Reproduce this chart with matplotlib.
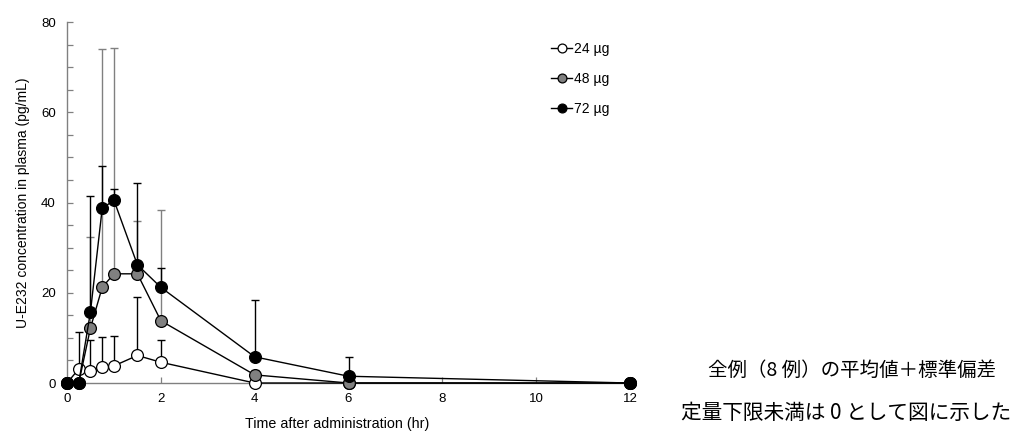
import matplotlib.pyplot as plt
from matplotlib.ticker import MultipleLocator

# time points (hr)
times = [0, 0.25, 0.5, 0.75, 1, 1.5, 2, 4, 6, 12]

# mean plasma concentration (pg/mL) and SD, per dose
mean_24 = [0, 3.1, 2.6, 3.5, 3.8, 6.1, 4.6, 0, 0, 0]
sd_24 = [0, 8.1, 7.0, 6.6, 6.7, 12.9, 5.0, 0, 0, 0]
mean_48 = [0, 0, 12.2, 21.2, 24.2, 24.2, 13.8, 1.8, 0, 0]
sd_48 = [0, 0, 20.1, 52.8, 50.0, 11.8, 24.6, 1.0, 0, 0]
mean_72 = [0, 0, 15.8, 38.7, 40.5, 26.2, 21.2, 5.8, 1.5, 0]
sd_72 = [0, 0, 25.6, 9.4, 2.5, 18.1, 4.3, 12.5, 4.3, 0]

labels = ["24 µg", "48 µg", "72 µg"]

plt.rcParams["font.family"] = ["Liberation Sans", "DejaVu Sans"]

fig = plt.figure(figsize=(10.2, 4.32), dpi=100)
ax = fig.add_axes([0.0657, 0.1134, 0.552, 0.8356])

series = [
    (mean_24, sd_24, "white", "black"),
    (mean_48, sd_48, "#808080", "#808080"),
    (mean_72, sd_72, "black", "black"),
]
for (m, s, face, ecol), lab in zip(series, labels):
    ax.errorbar(times, m, yerr=[[0] * len(s), s], fmt="none", ecolor=ecol,
                elinewidth=1.0, capsize=2.8, capthick=1.0, zorder=2, clip_on=False)
for i, ((m, s, face, ecol), lab) in enumerate(zip(series, labels)):
    ax.plot(times, m, "-o", color="black", lw=1.0, mfc=face, mec="black",
            mew=0.9, ms=8.5, label=lab, zorder=3 + i, clip_on=False)

ax.set_xlim(0, 12)
ax.set_ylim(0, 80)
ax.xaxis.set_major_locator(MultipleLocator(2))
ax.yaxis.set_major_locator(MultipleLocator(20))
ax.yaxis.set_minor_locator(MultipleLocator(5))
ax.tick_params(axis="both", which="both", direction="in", colors="#808080",
               labelcolor="black", labelsize=9.5)
ax.tick_params(axis="both", which="major", length=4, width=0.9)
ax.tick_params(axis="x", which="major", pad=7)
ax.tick_params(axis="y", which="major", pad=8)
ax.tick_params(axis="y", which="minor", length=4, width=0.9)
for sp in ["top", "right"]:
    ax.spines[sp].set_visible(False)
for sp in ["left", "bottom"]:
    ax.spines[sp].set_color("#808080")
    ax.spines[sp].set_linewidth(1.0)

ax.set_xlabel("Time after administration (hr)", fontsize=10.3, labelpad=9)
ax.xaxis.set_label_coords(0.479, -0.095)
ax.set_ylabel("U-E232 concentration in plasma (pg/mL)", fontsize=10, labelpad=8)

leg = ax.legend(loc="upper left", bbox_to_anchor=(0.838, 0.98), frameon=False,
                fontsize=10, handlelength=1.5, handletextpad=0.1,
                labelspacing=1.15, markerscale=0.75)

jp = ["Noto Sans CJK JP", "DejaVu Sans"]
fig.text(0.694, 0.143, "全例（8 例）の平均値＋標準偏差", fontsize=14,
         family=jp, ha="left", va="center", color="black")
fig.text(0.668, 0.045, "定量下限未満は 0 として図に示した", fontsize=14.9,
         family=jp, ha="left", va="center", color="black")

fig.savefig("out.png", dpi=100)
